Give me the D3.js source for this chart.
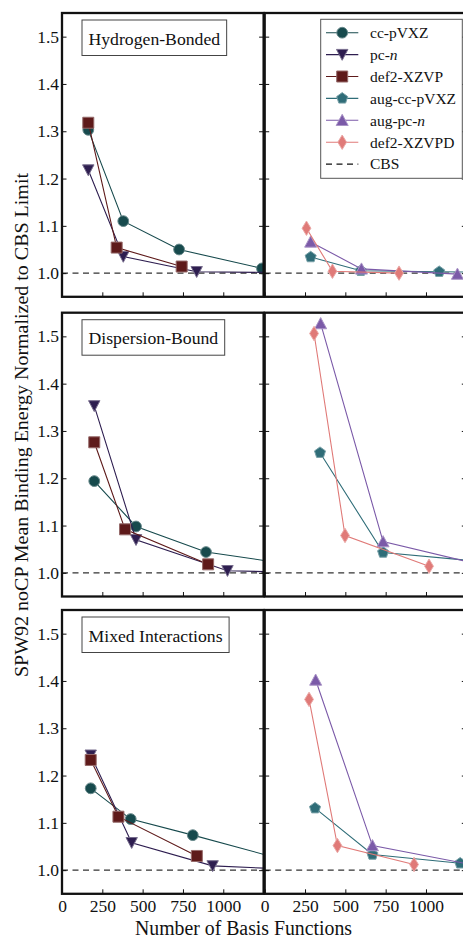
<!DOCTYPE html>
<html>
<head>
<meta charset="utf-8">
<script src="https://cdn.jsdelivr.net/npm/d3@7"></script>
<style>
  html, body { margin: 0; padding: 0; background: #fff; }
  svg { display: block; }
  text { font-family: "Liberation Serif", "Times New Roman", "DejaVu Serif", serif; fill: #111; }
</style>
</head>
<body>
<svg id="chart" width="463" height="938"></svg>
<script>
// ---------------- DATA ----------------
const rowLabels = ["Hydrogen-Bonded", "Dispersion-Bound", "Mixed Interactions"];
const seriesNames = ["cc-pVXZ", "pc-n", "def2-XZVP", "aug-cc-pVXZ", "aug-pc-n", "def2-XZVPD"];
const xTicks = [0, 250, 500, 750, 1000];
const yTicks = [1.0, 1.1, 1.2, 1.3, 1.4, 1.5];
const cbsValue = 1.0;

// non-augmented (left column), one array per row
const ccX   = [[163, 380, 726, 1240], [200, 459, 893, 1700], [178, 426, 811, 1600]];
const ccY   = [[1.303, 1.110, 1.050, 1.010], [1.194, 1.098, 1.044, 1.004], [1.173, 1.108, 1.074, 1.001]];
const pcX   = [[163, 380, 835, 1700], [200, 459, 1026, 1700], [178, 432, 934, 1600]];
const pcY   = [[1.218, 1.035, 1.003, 1.000], [1.353, 1.070, 1.0045, 0.999], [1.243, 1.058, 1.009, 0.999]];
const def2X = [[163, 339, 742], [200, 391, 906], [178, 350, 836]];
const def2Y = [[1.318, 1.054, 1.014], [1.276, 1.092, 1.018], [1.233, 1.113, 1.030]];

// augmented (right column)
const augccX   = [[285, 596, 1082, 1600], [343, 734, 1500], [312, 668, 1212]];
const augccY   = [[1.034, 1.005, 1.003, 1.001], [1.254, 1.043, 1.019], [1.131, 1.033, 1.0145]];
const augpcX   = [[285, 600, 1195], [347, 734, 1500], [316, 668, 1400]];
const augpcY   = [[1.066, 1.009, 0.998], [1.527, 1.066, 1.004], [1.402, 1.052, 1.004]];
const def2pdX  = [[259, 420, 833], [306, 498, 1019], [275, 451, 926]];
const def2pdY  = [[1.095, 1.004, 1.000], [1.506, 1.079, 1.014], [1.361, 1.052, 1.012]];

// ---------------- STYLE ----------------
const colors = {
  "cc-pVXZ": "#174a4d",
  "pc-n": "#2e1e50",
  "def2-XZVP": "#5e1a1a",
  "aug-cc-pVXZ": "#2f6d78",
  "aug-pc-n": "#7b5aa8",
  "def2-XZVPD": "#e07a78"
};
const shapes = {
  "cc-pVXZ": "circle", "pc-n": "tridown", "def2-XZVP": "square",
  "aug-cc-pVXZ": "pentagon", "aug-pc-n": "triup", "def2-XZVPD": "diamond"
};
const serif = '"Liberation Serif", "Times New Roman", serif';

function markerPath(shape) {
  const p = d3.path();
  switch (shape) {
    case "circle": p.arc(0, 0, 5.4, 0, 2 * Math.PI); p.closePath(); break;
    case "tridown": p.moveTo(-5.7, -5.2); p.lineTo(5.7, -5.2); p.lineTo(0, 5.7); p.closePath(); break;
    case "triup": p.moveTo(-6, 5.2); p.lineTo(6, 5.2); p.lineTo(0, -6); p.closePath(); break;
    case "square": p.rect(-5.5, -5.5, 11, 11); break;
    case "pentagon": {
      for (let i = 0; i < 5; i++) {
        const a = -Math.PI / 2 + i * 2 * Math.PI / 5;
        const px = 5.8 * Math.cos(a), py = 5.8 * Math.sin(a);
        if (i === 0) p.moveTo(px, py); else p.lineTo(px, py);
      }
      p.closePath(); break;
    }
    case "diamond": p.moveTo(0, -7.2); p.lineTo(4.4, 0); p.lineTo(0, 7.2); p.lineTo(-4.4, 0); p.closePath(); break;
  }
  return p.toString();
}
function lighter(c, t) { return d3.interpolateRgb(c, "#ffffff")(t); }

// ---------------- LAYOUT ----------------
const svg = d3.select("#chart");
const rowTops = [13, 312.7, 610];
const panelH = 283.8;
const panelW = 201.6;
const colLefts = [62, 264.7];
const fontTick = 17.5;

const x = d3.scaleLinear().domain([0, 1250]).range([0, panelW]);
const y = d3.scaleLinear().domain([0.95, 1.55]).range([panelH, 0]);

const leftSeries = [
  { name: "cc-pVXZ", X: ccX, Y: ccY },
  { name: "pc-n", X: pcX, Y: pcY },
  { name: "def2-XZVP", X: def2X, Y: def2Y }
];
const rightSeries = [
  { name: "aug-cc-pVXZ", X: augccX, Y: augccY },
  { name: "aug-pc-n", X: augpcX, Y: augpcY },
  { name: "def2-XZVPD", X: def2pdX, Y: def2pdY }
];

const defs = svg.append("defs");
defs.append("clipPath").attr("id", "panelClip")
  .append("rect").attr("x", 0).attr("y", 0).attr("width", panelW).attr("height", panelH);

const line = d3.line().x(d => x(d[0])).y(d => y(d[1]));

rowTops.forEach((top, r) => {
  [leftSeries, rightSeries].forEach((seriesSet, c) => {
    const g = svg.append("g").attr("transform", `translate(${colLefts[c]},${top})`);
    const plot = g.append("g").attr("clip-path", "url(#panelClip)");

    // CBS dashed line
    plot.append("line")
      .attr("x1", x(0)).attr("x2", x(1250))
      .attr("y1", y(cbsValue)).attr("y2", y(cbsValue))
      .attr("stroke", "#333").attr("stroke-width", 1.2)
      .attr("stroke-dasharray", "6,4.5");

    seriesSet.forEach(s => {
      const pts = s.X[r].map((xv, i) => [xv, s.Y[r][i]]);
      const col = colors[s.name];
      plot.append("path").datum(pts)
        .attr("d", line).attr("fill", "none")
        .attr("stroke", col).attr("stroke-width", 1.1);
      plot.selectAll(null).data(pts).enter().append("path")
        .attr("d", markerPath(shapes[s.name]))
        .attr("transform", d => `translate(${x(d[0])},${y(d[1])})`)
        .attr("fill", col)
        .attr("stroke", lighter(col, 0.35)).attr("stroke-width", 1);
    });

    // axes (inward ticks)
    const ax = d3.axisBottom(x).tickValues(xTicks).tickSizeInner(-4.5).tickSizeOuter(0).tickPadding(6)
      .tickFormat(r === 2 ? d3.format("d") : () => "");
    const axg = g.append("g").attr("transform", `translate(0,${panelH})`).call(ax);
    const ayl = d3.axisLeft(y).tickValues(yTicks).tickSizeInner(-4.5).tickSizeOuter(0).tickPadding(3)
      .tickFormat(c === 0 ? d3.format(".1f") : () => "");
    const aylg = g.append("g").call(ayl);
    const ayr = d3.axisRight(y).tickValues(yTicks).tickSizeInner(-4.5).tickSizeOuter(0).tickFormat(() => "");
    const ayrg = g.append("g").attr("transform", `translate(${panelW},0)`).call(ayr);
    [axg, aylg, ayrg].forEach(a => {
      a.attr("font-family", serif);
      a.select(".domain").remove();
      a.selectAll(".tick line").attr("stroke", "#111").attr("stroke-width", 1);
      a.selectAll("text").attr("font-size", fontTick)
        .style("font-family", serif).attr("fill", "#111");
    });

    // frame
    g.append("rect").attr("x", 0).attr("y", 0).attr("width", panelW).attr("height", panelH)
      .attr("fill", "none").attr("stroke", "#111").attr("stroke-width", 2.3);

    // row label box on left panel
    if (c === 0) {
      const lbl = g.append("g").attr("transform", "translate(20,7)");
      const t = lbl.append("text").attr("x", 6.5).attr("y", 24.5)
        .attr("font-size", 17.7).style("font-family", serif).text(rowLabels[r]);
      const w = t.node().getComputedTextLength();
      lbl.insert("rect", "text").attr("x", 0).attr("y", 0)
        .attr("width", w + 13).attr("height", 35.5)
        .attr("fill", "#fff").attr("stroke", "#444").attr("stroke-width", 1);
    }
  });
});

// ---------------- LEGEND ----------------
const leg = svg.append("g").attr("transform", "translate(320.7,19.3)");
leg.append("rect").attr("width", 141.6).attr("height", 159)
  .attr("fill", "#fff").attr("stroke", "#555").attr("stroke-width", 1);
const legItems = seriesNames.concat(["CBS"]);
legItems.forEach((name, i) => {
  const yy = 13.4 + i * 21.9;
  const row = leg.append("g").attr("transform", `translate(0,${yy})`);
  if (name === "CBS") {
    row.append("line").attr("x1", 5.3).attr("x2", 37.6).attr("y1", 0).attr("y2", 0)
      .attr("stroke", "#111").attr("stroke-width", 1.2).attr("stroke-dasharray", "6,4.5");
  } else {
    const col = colors[name];
    row.append("line").attr("x1", 5.3).attr("x2", 37.6).attr("y1", 0).attr("y2", 0)
      .attr("stroke", col).attr("stroke-width", 1.1);
    row.append("path").attr("d", markerPath(shapes[name]))
      .attr("transform", "translate(21.5,0)")
      .attr("fill", col).attr("stroke", lighter(col, 0.35)).attr("stroke-width", 1);
  }
  const t = row.append("text").attr("x", 49.3).attr("y", 5.3).attr("font-size", 15.5)
    .style("font-family", serif);
  if (name.endsWith("-n")) {
    t.append("tspan").text(name.slice(0, -1));
    t.append("tspan").attr("font-style", "italic").text("n");
  } else {
    t.text(name);
  }
});

// ---------------- AXIS TITLES ----------------
svg.append("text")
  .attr("x", 243.5).attr("y", 935)
  .attr("text-anchor", "middle").attr("font-size", 20)
  .style("font-family", serif)
  .attr("textLength", 217).attr("lengthAdjust", "spacingAndGlyphs")
  .text("Number of Basis Functions");

svg.append("text")
  .attr("transform", "translate(28,425) rotate(-90)")
  .attr("text-anchor", "middle").attr("font-size", 19)
  .style("font-family", serif)
  .attr("textLength", 504).attr("lengthAdjust", "spacingAndGlyphs")
  .text("SPW92 noCP Mean Binding Energy Normalized to CBS Limit");
</script>
</body>
</html>
